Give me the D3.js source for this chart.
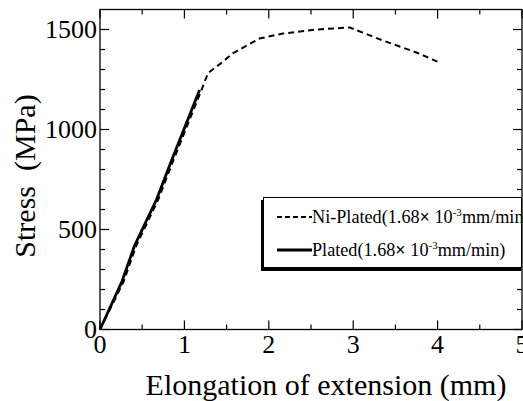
<!DOCTYPE html>
<html>
<head>
<meta charset="utf-8">
<script src="https://cdn.jsdelivr.net/npm/d3@7"></script>
<style>
    body { margin: 0; background: #fff; }
    svg { font-family: "Liberation Serif", "Times New Roman", serif; }
</style>
</head>
<body>
<svg id="chart" width="523" height="401"></svg>
<script>
// Ni-Plated (dashed)
var niX = [0, 0.28, 0.43, 0.69, 0.87, 1.2, 1.28, 1.45, 1.57, 1.89, 2.17, 2.57, 2.96, 3.35, 3.75, 4.02];
var niY = [0, 240, 420, 650, 847, 1195, 1282, 1337, 1380, 1455, 1480, 1500, 1510, 1445, 1385, 1335];
// Plated (solid)
var plX = [0, 0.26, 0.41, 0.67, 0.85, 1.18];
var plY = [0, 240, 420, 650, 847, 1197];

var xTicks = [0, 1, 2, 3, 4, 5];
var xMinor = [0.5, 1.5, 2.5, 3.5, 4.5];
var yTicks = [0, 500, 1000, 1500];
var yMinor = [100, 200, 300, 400, 600, 700, 800, 900, 1100, 1200, 1300, 1400];

var svg = d3.select("#chart");
var pLeft = 100, pRight = 522, pTop = 9.5, pBottom = 329.5;

var x = d3.scaleLinear().domain([0, 5]).range([pLeft, pRight]);
var y = d3.scaleLinear().domain([0, 1600]).range([pBottom, pTop]);

// frame
svg.append("rect")
    .attr("x", pLeft).attr("y", pTop)
    .attr("width", pRight - pLeft).attr("height", pBottom - pTop)
    .style("fill", "none").style("stroke", "#000").style("stroke-width", 1.3);

// ticks, inward on all four sides
var tickG = svg.append("g").style("stroke", "#000").style("stroke-width", 1.2);
function xt(vals, len) {
    vals.forEach(function (v) {
        tickG.append("line").attr("x1", x(v)).attr("x2", x(v)).attr("y1", pBottom).attr("y2", pBottom - len);
        tickG.append("line").attr("x1", x(v)).attr("x2", x(v)).attr("y1", pTop).attr("y2", pTop + len);
    });
}
function yt(vals, len) {
    vals.forEach(function (v) {
        tickG.append("line").attr("y1", y(v)).attr("y2", y(v)).attr("x1", pLeft).attr("x2", pLeft + len);
        tickG.append("line").attr("y1", y(v)).attr("y2", y(v)).attr("x1", pRight).attr("x2", pRight - len);
    });
}
xt(xTicks, 9); xt(xMinor, 5);
yt(yTicks, 9); yt(yMinor, 5);

// tick labels
svg.selectAll(".xl").data(xTicks).enter().append("text")
    .attr("x", function (d) { return x(d); })
    .attr("y", 353)
    .attr("text-anchor", "middle")
    .attr("font-size", "26px")
    .text(function (d) { return d; });

svg.selectAll(".yl").data(yTicks).enter().append("text")
    .attr("x", 97)
    .attr("y", function (d) { return y(d) + 8.5; })
    .attr("text-anchor", "end")
    .attr("font-size", "26px")
    .text(function (d) { return d; });

// axis titles
svg.append("text")
    .attr("x", 326).attr("y", 395)
    .attr("text-anchor", "middle")
    .attr("font-size", "30px")
    .text("Elongation of extension (mm)");

svg.append("text")
    .attr("transform", "translate(35,176) rotate(-90)")
    .attr("text-anchor", "middle")
    .attr("font-size", "30px")
    .attr("xml:space", "preserve")
    .text("Stress  (MPa)");

// curves
var line = d3.line()
    .x(function (d) { return x(d[0]); })
    .y(function (d) { return y(d[1]); });

svg.append("path")
    .datum(d3.zip(niX, niY))
    .attr("d", line)
    .style("fill", "none").style("stroke", "#000")
    .style("stroke-width", 2).style("stroke-dasharray", "6,4");

svg.append("path")
    .datum(d3.zip(plX, plY))
    .attr("d", line)
    .style("fill", "none").style("stroke", "#000")
    .style("stroke-width", 2.8);

// legend
var lg = svg.append("g");
lg.append("rect")
    .attr("x", 261).attr("y", 200).attr("width", 260).attr("height", 71)
    .style("fill", "#000");
lg.append("rect")
    .attr("x", 263.5).attr("y", 197.5).attr("width", 258).attr("height", 70)
    .style("fill", "#fff").style("stroke", "#000").style("stroke-width", 1);

var legendNames = ["Ni-Plated", "Plated"];
var legendTails = ["mm/min", "mm/min)"];
var legendDash = ["5,3", null];
var legendWidth = [1.8, 2.8];
var rowY = [217, 250];

legendNames.forEach(function (name, i) {
    lg.append("line")
        .attr("x1", 277).attr("x2", 312).attr("y1", rowY[i]).attr("y2", rowY[i])
        .style("stroke", "#000").style("stroke-width", legendWidth[i])
        .style("stroke-dasharray", legendDash[i]);
    var t = lg.append("text")
        .attr("x", 312).attr("y", rowY[i] + 6)
        .attr("font-size", "18.2px");
    t.append("tspan").text(name + "(1.68");
    t.append("tspan").attr("font-weight", "bold").text("×");
    t.append("tspan").text(" 10");
    t.append("tspan").attr("font-size", "11px").attr("dy", -7).text("-3");
    t.append("tspan").attr("dy", 7).text(legendTails[i]);
});
</script>
</body>
</html>
